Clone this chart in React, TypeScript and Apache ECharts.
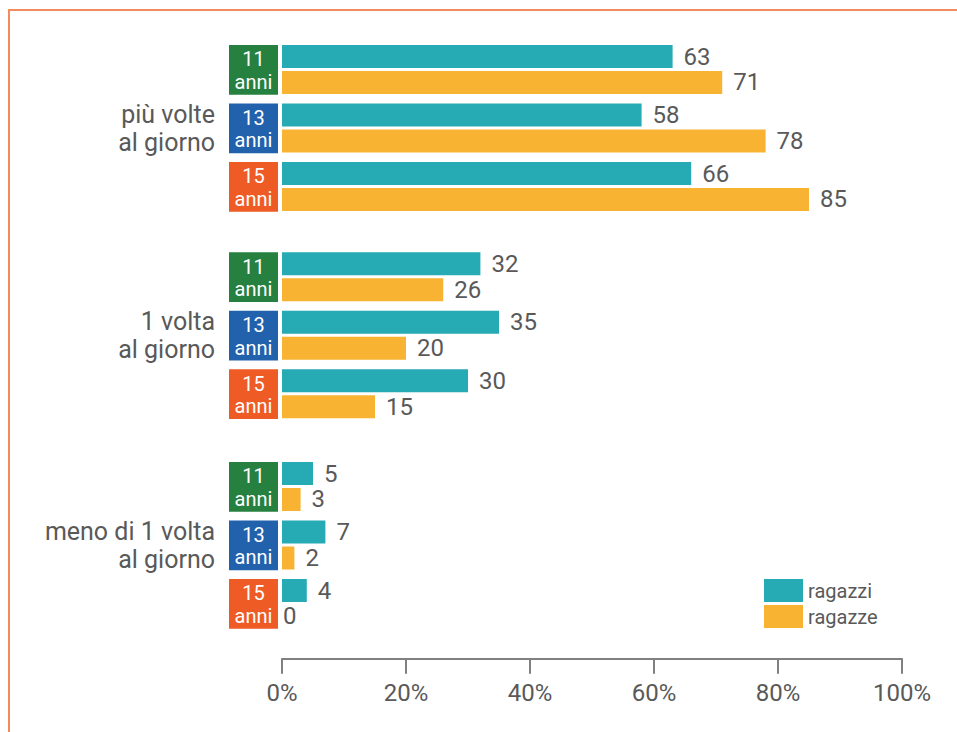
import React, { useEffect, useRef } from "react";
import * as echarts from "echarts";

const groups = ["più volte\nal giorno", "1 volta\nal giorno", "meno di 1 volta\nal giorno"];
const ages = ["11", "13", "15"];
const ageColors = ["#26803F", "#2261AB", "#EE5B25"];
const seriesNames = ["ragazzi", "ragazze"];
const seriesColors = ["#26AAB4", "#F8B332"];
const boys = [
  [63, 58, 66],
  [32, 35, 30],
  [5, 7, 4],
];
const girls = [
  [71, 78, 85],
  [26, 20, 15],
  [3, 2, 0],
];

const FONT = "Roboto, 'Liberation Sans', sans-serif";
const TEXT = "#595959";

export default function App() {
  const ref = useRef<HTMLDivElement>(null);
  useEffect(() => {
    if (!ref.current) return;
    const chart = echarts.init(ref.current, null, { renderer: "svg" });
    const gridTops = [40.25, 247.5, 457.25];
    const bandH = 58.5;
    const rich: Record<string, any> = {};
    ages.forEach((a, i) => {
      rich["t" + i] = {
        backgroundColor: ageColors[i],
        color: "#fff",
        width: 49,
        height: 20.5,
        lineHeight: 24.5,
        align: "center",
        fontSize: 20,
        fontFamily: FONT,
        padding: [4, 0, 0, 0],
      };
      rich["b" + i] = {
        backgroundColor: ageColors[i],
        color: "#fff",
        width: 49,
        height: 26,
        lineHeight: 24.5,
        align: "center",
        fontSize: 20,
        fontFamily: FONT,
      };
    });
    const grid = gridTops.map((t) => ({
      left: 282,
      right: 55,
      top: t,
      height: bandH * 3,
      containLabel: false,
    }));
    const xAxis = gridTops.map((_, gi) => ({
      type: "value",
      gridIndex: gi,
      min: 0,
      max: 100,
      interval: 20,
      show: gi === 2,
      offset: 26,
      splitLine: { show: false },
      axisLine: { show: true, lineStyle: { color: "#808080", width: 2 } },
      axisTick: { show: true, length: 15, lineStyle: { color: "#808080", width: 2 } },
      axisLabel: {
        formatter: "{value}%",
        fontSize: 24,
        color: TEXT,
        fontFamily: FONT,
        margin: 22,
      },
    }));
    const yAxis = groups.map((g, gi) => ({
      type: "category",
      gridIndex: gi,
      inverse: true,
      data: ages,
      axisLine: { show: false },
      axisTick: { show: false },
      axisLabel: {
        margin: 4,
        formatter: (v: string, i: number) => `{t${i}|${v}}\n{b${i}|anni}`,
        rich,
      },
      name: g,
      nameLocation: "middle",
      nameRotate: 0,
      nameGap: 67,
      nameTextStyle: {
        fontSize: 25,
        lineHeight: 28,
        color: TEXT,
        fontFamily: FONT,
        align: "right",
        verticalAlign: "middle",
      },
    }));
    const mkData = (arr: number[]) =>
      arr.map((v) => (v === 0 ? { value: v, label: { distance: 1 } } : v));
    const series: any[] = [];
    groups.forEach((_, gi) => {
      [boys[gi], girls[gi]].forEach((vals, si) => {
        series.push({
          type: "bar",
          name: seriesNames[si],
          xAxisIndex: gi,
          yAxisIndex: gi,
          data: mkData(vals),
          barWidth: 23,
          barGap: "13%",
          itemStyle: { color: seriesColors[si] },
          label: {
            show: true,
            position: "right",
            distance: 11,
            fontSize: 24,
            color: TEXT,
            fontFamily: FONT,
          },
        });
      });
    });
    chart.setOption({
      animation: false,
      textStyle: { fontFamily: FONT },
      grid,
      xAxis,
      yAxis,
      series,
      legend: {
        data: seriesNames,
        orient: "vertical",
        left: 764,
        top: 579,
        itemWidth: 39,
        itemHeight: 23,
        itemGap: 3,
        icon: "rect",
        padding: 0,
        textStyle: { fontSize: 20, color: TEXT, fontFamily: FONT },
      },
      graphic: [
        {
          type: "rect",
          shape: { x: 9, y: 10, width: 1200, height: 1200 },
          style: { fill: "none", stroke: "#F38B5E", lineWidth: 2 },
          silent: true,
        },
      ],
    });
    return () => chart.dispose();
  }, []);
  return (
    <div
      ref={ref}
      style={{ position: "absolute", left: 0, top: 0, width: 957, height: 732, background: "#fff" }}
    />
  );
}
